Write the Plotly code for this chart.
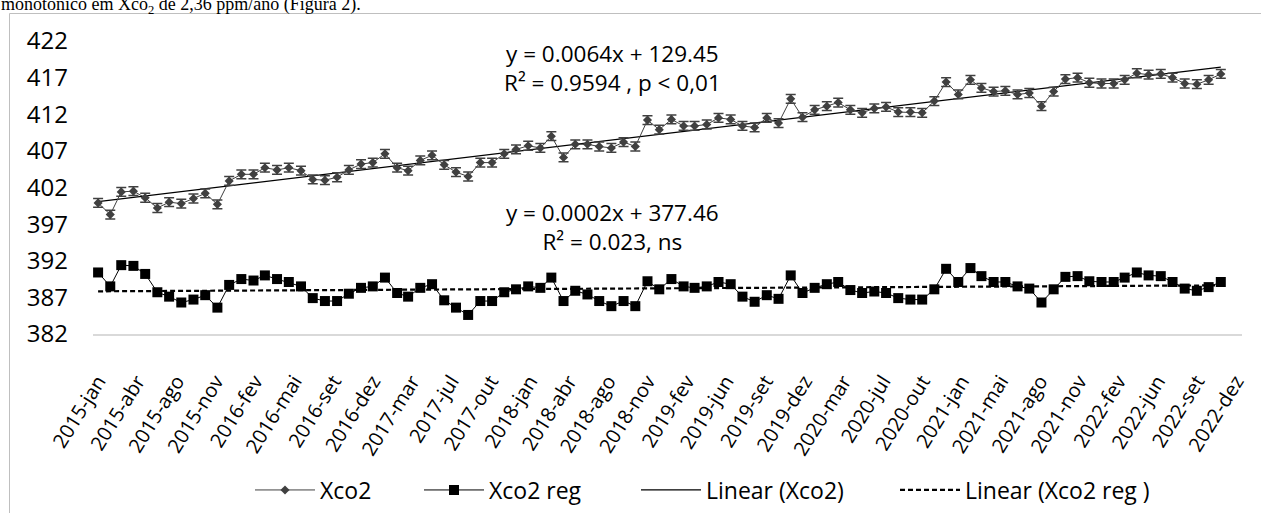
import numpy as np
import pandas as pd
import plotly.graph_objects as go

# ---------------- data ----------------
months = pd.date_range("2015-01-01", periods=95, freq="MS") + pd.Timedelta(days=14)

xco2 = [399.9, 398.3, 401.4, 401.5, 400.6, 399.2, 400.0, 399.8, 400.5, 401.2,
        399.7, 402.9, 403.8, 403.8, 404.7, 404.4, 404.7, 404.3, 403.1, 403.0,
        403.4, 404.4, 405.2, 405.4, 406.6, 404.7, 404.3, 405.7, 406.4, 405.1,
        404.1, 403.5, 405.4, 405.4, 406.6, 407.2, 407.7, 407.4, 409.0, 406.1,
        407.9, 407.9, 407.6, 407.4, 408.2, 407.6, 411.2, 409.9, 411.3, 410.4,
        410.4, 410.6, 411.5, 411.3, 410.4, 410.2, 411.5, 410.8, 414.1, 411.6,
        412.6, 413.1, 413.6, 412.6, 412.2, 412.8, 413.0, 412.3, 412.3, 412.2,
        413.8, 416.4, 414.7, 416.7, 415.6, 415.1, 415.2, 414.7, 414.9, 413.1,
        415.1, 416.8, 417.0, 416.3, 416.2, 416.2, 416.7, 417.6, 417.4, 417.5,
        417.0, 416.2, 416.1, 416.7, 417.5]
xco2_err = 0.6

xco2_reg = [390.4, 388.5, 391.4, 391.3, 390.2, 387.7, 387.1, 386.3, 386.7, 387.3,
            385.6, 388.7, 389.5, 389.3, 390.0, 389.5, 389.1, 388.5, 386.9, 386.5,
            386.5, 387.5, 388.3, 388.5, 389.7, 387.6, 387.1, 388.3, 388.8, 386.6,
            385.6, 384.6, 386.5, 386.5, 387.7, 388.1, 388.5, 388.3, 389.7, 386.5,
            387.9, 387.4, 386.5, 385.8, 386.5, 385.8, 389.2, 388.1, 389.5, 388.5,
            388.3, 388.5, 389.1, 388.8, 387.1, 386.4, 387.3, 386.8, 390.0, 387.6,
            388.3, 388.8, 389.1, 388.0, 387.6, 387.8, 387.6, 386.9, 386.7, 386.7,
            388.1, 390.9, 389.1, 391.0, 389.9, 389.1, 389.1, 388.5, 388.2, 386.3,
            388.1, 389.8, 389.9, 389.2, 389.1, 389.1, 389.7, 390.4, 390.0, 389.9,
            389.1, 388.2, 387.9, 388.4, 389.1]

tick_labels = ["2015-jan", "2015-abr", "2015-ago", "2015-nov", "2016-fev", "2016-mai",
               "2016-set", "2016-dez", "2017-mar", "2017-jul", "2017-out", "2018-jan",
               "2018-abr", "2018-ago", "2018-nov", "2019-fev", "2019-jun", "2019-set",
               "2019-dez", "2020-mar", "2020-jul", "2020-out", "2021-jan", "2021-mai",
               "2021-ago", "2021-nov", "2022-fev", "2022-jun", "2022-set", "2022-dez"]
tick_step_days = 100

series_names = ["Xco2", "Xco2 reg", "Linear (Xco2)", "Linear (Xco2 reg )"]
eq1 = ["y = 0.0064x + 129.45", "R² = 0.9594 , p < 0,01"]
eq2 = ["y = 0.0002x + 377.46", "R² = 0.023, ns"]
page_text = "monotônico em Xco<sub>2</sub> de 2,36 ppm/ano (Figura 2)."

# ---------------- layout geometry ----------------
W, H = 1261, 513
ML, MR, MT, MB = 93, 19, 41, 179
PW, PH = W - ML - MR, H - MT - MB


def px_x(x):
    return (x - ML) / PW


def px_y(y):
    return (H - MB - y) / PH


tickvals = [months[0] + pd.Timedelta(days=tick_step_days * k) for k in range(len(tick_labels))]

# linear trends fitted from the data
t = (months - months[0]).days.values.astype(float)
p1 = np.polyfit(t, xco2, 1)
p2 = np.polyfit(t, xco2_reg, 1)
tx = [months[0], months[-1]]
tt = np.array([t[0], t[-1]])

FONT = "Open Sans"

fig = go.Figure()

fig.add_trace(go.Scatter(
    x=tx, y=np.polyval(p1, tt), name=series_names[2], mode="lines",
    line=dict(color="#000000", width=1.3), legend="legend3",
))
fig.add_trace(go.Scatter(
    x=tx, y=np.polyval(p2, tt), name=series_names[3], mode="lines",
    line=dict(color="#000000", width=2.2, dash="5px,3px"), legend="legend4",
))
fig.add_trace(go.Scatter(
    x=months, y=xco2, name=series_names[0], mode="lines+markers",
    line=dict(color="#404040", width=1),
    marker=dict(symbol="diamond", size=7, color="#404040"),
    error_y=dict(type="constant", value=xco2_err, color="#404040", thickness=1.5, width=5),
    legend="legend",
))
fig.add_trace(go.Scatter(
    x=months, y=xco2_reg, name=series_names[1], mode="lines+markers",
    line=dict(color="#000000", width=1),
    marker=dict(symbol="square", size=10, color="#000000"),
    legend="legend2",
))

ann = []
for lines, yy in ((eq1, 68.5), (eq2, 226.5)):
    ann.append(dict(text="<br>".join(lines), x=px_x(612), y=px_y(yy),
                    xref="paper", yref="paper", showarrow=False,
                    xanchor="center", yanchor="middle", align="center",
                    font=dict(family=FONT, size=22.5, color="#000")))
ann.append(dict(text=page_text, x=px_x(-1), y=px_y(19), xref="paper", yref="paper",
                showarrow=False, xanchor="left", yanchor="bottom",
                font=dict(family="Liberation Serif", size=18, color="#000")))

shapes = [
    dict(type="line", xref="paper", yref="paper", x0=px_x(9.5), x1=px_x(1300),
         y0=px_y(13.5), y1=px_y(13.5), line=dict(color="#bfbfbf", width=1)),
    dict(type="line", xref="paper", yref="paper", x0=px_x(9.5), x1=px_x(9.5),
         y0=px_y(13.5), y1=px_y(560), line=dict(color="#bfbfbf", width=1)),
]

leg_y = px_y(490)
leg_common = dict(orientation="h", xanchor="left", y=leg_y, yanchor="middle",
                  font=dict(family=FONT, size=23, color="#000"),
                  bgcolor="rgba(0,0,0,0)", itemwidth=60, borderwidth=0)

fig.update_layout(
    width=W, height=H,
    margin=dict(l=ML, r=MR, t=MT, b=MB, pad=0, autoexpand=False),
    paper_bgcolor="white", plot_bgcolor="white",
    font=dict(family=FONT, color="#000"),
    showlegend=True,
    legend=dict(x=px_x(250), **leg_common),
    legend2=dict(x=px_x(419), **leg_common),
    legend3=dict(x=px_x(636), **leg_common),
    legend4=dict(x=px_x(895), **leg_common),
    annotations=ann,
    shapes=shapes,
    xaxis=dict(type="date", range=["2015-01-02", "2023-01-08"],
               tickmode="array", tickvals=tickvals, ticktext=tick_labels,
               tickangle=-58, tickfont=dict(family=FONT, size=20, color="#000"),
               showgrid=False, zeroline=False, showline=True, linecolor="#d9d9d9",
               linewidth=1.5, ticks="", ticklabelstandoff=26, automargin=False),
    yaxis=dict(range=[382, 422], tickmode="linear", tick0=382, dtick=5,
               tickfont=dict(family=FONT, size=24, color="#000"),
               showgrid=False, zeroline=False, showline=False, ticks="",
               ticklabelstandoff=24, automargin=False),
)

fig.write_html("out.html", config={"displayModeBar": False},
               post_script="document.body.style.margin='0px';")
